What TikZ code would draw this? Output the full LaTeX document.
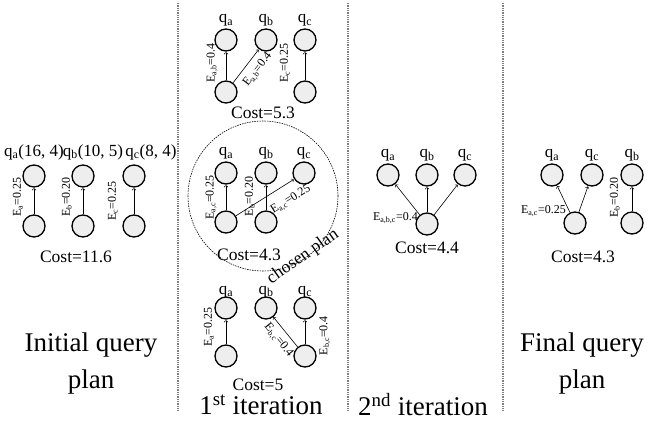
\documentclass[tikz,border=0pt]{standalone}
\usepackage{fontspec}
\setmainfont{Liberation Serif}
\usetikzlibrary{positioning}

\newcommand{\qsub}[1]{q\textsubscript{#1}}
\newcommand{\esub}[1]{E\textsubscript{#1}}

\tikzset{
  qnode/.style={circle, draw, line width=1.3pt, fill=gray!13, minimum size=22pt, inner sep=0pt},
  qlab/.style={font=\fontsize{17}{17}\selectfont, inner sep=0pt},
  elab/.style={font=\fontsize{12}{12}\selectfont, inner sep=0pt},
  costlab/.style={font=\fontsize{17.5}{17.5}\selectfont, inner sep=0pt},
  headlab/.style={font=\fontsize{27}{37}\selectfont, align=center, inner sep=0pt},
  qarrow/.style={->, line width=0.6pt, shorten >=0.5pt},
  divider/.style={densely dotted, line width=1.3pt, gray},
}

\begin{document}
\begin{tikzpicture}[x=1pt, y=1pt]
\useasboundingbox (0,0) rectangle (649,-424);

% dividers
\coordinate (d1t) at (178,-3);   \coordinate (d1b) at (178,-411);
\coordinate (d2t) at (348,-3);   \coordinate (d2b) at (348,-411);
\coordinate (d3t) at (503,-3);   \coordinate (d3b) at (503,-411);
\draw[divider] (d1t) -- (d1b); % left
\draw[divider] (d2t) -- (d2b); % middle
\draw[divider] (d3t) -- (d3b); % right

% initial plan
\node[qnode] (ia) at (34,-176) {};
\node[qnode] (ib) at (83,-176) {};
\node[qnode] (ic) at (134,-176) {};
\node[qnode] (ia0) at (34,-226) {};
\node[qnode] (ib0) at (83,-226) {};
\node[qnode] (ic0) at (134,-226) {};
\node[qlab] (ialab) at (34,-152) {\qsub{a}(16, 4)};
\node[qlab] (iblab) at (93,-152) {\qsub{b}(10, 5)};
\node[qlab] (iclab) at (151,-152) {\qsub{c}(8, 4)};
\draw[qarrow] (ia0) -- (ia) node[elab, pos=0.65, sloped, above=11pt] {\esub{a}=0.25}; % a
\draw[qarrow] (ib0) -- (ib) node[elab, pos=0.65, sloped, above=11pt] {\esub{b}=0.20}; % b
\draw[qarrow] (ic0) -- (ic) node[elab, pos=0.5, sloped, above=16pt] {\esub{c}=0.25}; % c
\node[costlab] (icost) at (76,-257) {Cost=11.6};
\node[headlab] (ihead) at (91,-364) {Initial query\\plan};

% 1st iteration, top
\node[qnode] (ta) at (226,-40) {};
\node[qnode] (tb) at (266,-40) {};
\node[qnode] (tc) at (305,-40) {};
\node[qnode] (ta0) at (226,-92) {};
\node[qnode] (tc0) at (305,-92) {};
\node[qlab, above=2pt of ta] (talab) {\qsub{a}};
\node[qlab, above=2pt of tb] (tblab) {\qsub{b}};
\node[qlab, above=2pt of tc] (tclab) {\qsub{c}};
\draw[qarrow] (ta0) -- (ta) node[elab, pos=0.6, sloped, above=8pt] {\esub{a,b}=0.4}; % ab
\draw[qarrow] (ta0) -- (tb) node[elab, pos=0.6, sloped, below=6pt] {\esub{a,b}=0.4}; % ab
\draw[qarrow] (tc0) -- (tc) node[elab, pos=0.6, sloped, above=15pt] {\esub{c}=0.25}; % c
\node[costlab] (tcost) at (263,-113) {Cost=5.3};

% 1st iteration, middle (chosen)
\node[circle, draw, dash pattern=on 1.5pt off 1pt, line width=0.6pt, minimum size=150pt, inner sep=0pt] (mring) at (263,-196) {};
\node[qnode] (ma) at (226,-173) {};
\node[qnode] (mb) at (266,-173) {};
\node[qnode] (mc) at (304,-173) {};
\node[qnode] (ma0) at (226,-222) {};
\node[qnode] (mb0) at (266,-222) {};
\node[qlab, above=2pt of ma] (malab) {\qsub{a}};
\node[qlab, above=2pt of mb] (mblab) {\qsub{b}};
\node[qlab, above=2pt of mc] (mclab) {\qsub{c}};
\draw[qarrow] (ma0) -- (ma) node[elab, pos=0.5, sloped, above=9pt] {\esub{a,c}=0.25}; % ac
\draw[qarrow] (mb0) -- (mb) node[elab, pos=0.55, sloped, above=11pt] {\esub{b}=0.20}; % b
\draw[qarrow] (ma0) -- (mc) node[elab, pos=0.8, sloped, below=10pt] {\esub{a,c}=0.25}; % ac
\node[costlab] (mcost) at (249,-255) {Cost=4.3};
\node[costlab, rotate=35] (mnote) at (303,-257) {chosen plan};

% 1st iteration, bottom
\node[qlab] (balab) at (226,-292) {\qsub{a}};
\node[qlab] (bblab) at (266,-292) {\qsub{b}};
\node[qlab] (bclab) at (305,-292) {\qsub{c}};
\node[qnode] (ba) at (226,-308) {};
\node[qnode] (bb) at (266,-308) {};
\node[qnode] (bc) at (305,-308) {};
\node[qnode] (ba0) at (226,-356) {};
\node[qnode] (bc0) at (305,-356) {};
\draw[qarrow] (ba0) -- (ba) node[elab, pos=0.7, sloped, above=12pt] {\esub{a}=0.25}; % a
\draw[<-, line width=0.6pt] (bb) -- (bc0) node[elab, pos=0.55, sloped, below=5pt] {\esub{b,c}=0.4}; % bc
\draw[qarrow] (bc0) -- (bc) node[elab, pos=0.35, sloped, below=14pt] {\esub{b,c}=0.4}; % bc
\node[costlab] (bcost) at (258,-385) {Cost=5};
\node[headlab] (bhead) at (261,-405) {1\textsuperscript{st} iteration};

% 2nd iteration
\node[qnode] (pa) at (388,-175) {};
\node[qnode] (pb) at (427,-175) {};
\node[qnode] (pc) at (465,-175) {};
\node[qnode] (p0) at (427,-224) {};
\node[qlab, above=2pt of pa] (palab) {\qsub{a}};
\node[qlab, above=2pt of pb] (pblab) {\qsub{b}};
\node[qlab, above=2pt of pc] (pclab) {\qsub{c}};
\draw[qarrow] (p0) -- (pa);
\draw[qarrow] (p0) -- (pb);
\draw[qarrow] (p0) -- (pc);
\node[elab, anchor=east] (pelab) at (418,-218) {\esub{a,b,c}=0.4};
\node[costlab] (pcost) at (427,-248) {Cost=4.4};
\node[headlab] (phead) at (423,-405) {2\textsuperscript{nd} iteration};

% final plan
\node[qnode] (fa) at (552,-175) {};
\node[qnode] (fc) at (592,-175) {};
\node[qnode] (fb) at (632,-175) {};
\node[qnode] (f0) at (575,-223) {};
\node[qnode] (fb0) at (632,-223) {};
\node[qlab, above=2pt of fa] (falab) {\qsub{a}};
\node[qlab, above=2pt of fc] (fclab) {\qsub{c}};
\node[qlab, above=2pt of fb] (fblab) {\qsub{b}};
\draw[qarrow] (f0) -- (fa);
\draw[qarrow] (f0) -- (fc);
\draw[qarrow] (fb0) -- (fb) node[elab, pos=0.55, sloped, above=12pt] {\esub{b}=0.20}; % b
\node[elab, anchor=east] (felab) at (566,-211) {\esub{a,c}=0.25};
\node[costlab] (fcost) at (583,-257) {Cost=4.3};
\node[headlab] (fhead) at (582,-364) {Final query\\plan};

\end{tikzpicture}
\end{document}
